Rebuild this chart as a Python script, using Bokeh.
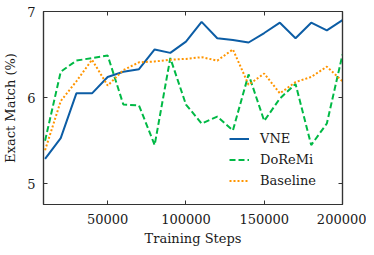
from bokeh.plotting import figure
from bokeh.models import (FixedTicker, LinearAxis, Legend, LegendItem, Range1d,
                          PrintfTickFormatter, CustomJSTickFormatter)
from bokeh.embed import file_html
from bokeh.resources import INLINE

steps = [10000, 20000, 30000, 40000, 50000, 60000, 70000, 80000, 90000, 100000,
         110000, 120000, 130000, 140000, 150000, 160000, 170000, 180000, 190000, 200000]
vne = [5.29, 5.53, 6.05, 6.05, 6.24, 6.30, 6.33, 6.56, 6.52, 6.65,
       6.88, 6.69, 6.67, 6.64, 6.75, 6.87, 6.69, 6.87, 6.78, 6.90]
doremi = [5.50, 6.30, 6.43, 6.46, 6.49, 5.92, 5.91, 5.45, 6.46, 5.92,
          5.70, 5.78, 5.62, 6.27, 5.73, 5.99, 6.16, 5.45, 5.70, 6.50]
baseline = [5.39, 5.96, 6.19, 6.44, 6.14, 6.32, 6.41, 6.42, 6.44, 6.45,
            6.47, 6.43, 6.56, 6.15, 6.28, 6.05, 6.18, 6.24, 6.36, 6.19]

x_ticks = [50000, 100000, 150000, 200000]
y_ticks = [5, 6, 7]

FONT = "DejaVu Serif"
FS = "13px"
TXT = "#1a1a1a"
AX = "#333333"

p = figure(width=366, height=248, output_backend="svg", toolbar_location=None,
           x_range=Range1d(9000, 200000), y_range=Range1d(4.76, 7.0),
           min_border_left=37, min_border_right=24, min_border_top=11, min_border_bottom=20)

p.background_fill_color = "white"
p.border_fill_color = "white"
p.outline_line_color = AX
p.outline_line_width = 1.2
p.grid.visible = False

def style_axis(ax):
    ax.major_tick_in = 4
    ax.major_tick_out = 0
    ax.minor_tick_in = 0
    ax.minor_tick_out = 0
    ax.axis_line_color = AX
    ax.axis_line_width = 1.2
    ax.major_tick_line_color = AX
    ax.major_label_text_font = FONT
    ax.major_label_text_font_size = FS
    ax.major_label_text_color = TXT
    ax.axis_label_text_font = FONT
    ax.axis_label_text_font_size = FS
    ax.axis_label_text_font_style = "normal"
    ax.axis_label_text_color = TXT

p.xaxis.ticker = FixedTicker(ticks=x_ticks)
p.yaxis.ticker = FixedTicker(ticks=y_ticks)
p.xaxis.formatter = PrintfTickFormatter(format="%d")
p.yaxis.formatter = PrintfTickFormatter(format="%d")
p.xaxis.axis_label = "Training Steps"
p.yaxis.axis_label = "Exact Match (%)"
style_axis(p.xaxis[0])
style_axis(p.yaxis[0])
p.xaxis.major_label_standoff = 9
p.yaxis.major_label_standoff = 8
p.xaxis.axis_label_standoff = 4
p.yaxis.axis_label_standoff = 6

blank = CustomJSTickFormatter(code="return '';")
top = LinearAxis(ticker=FixedTicker(ticks=x_ticks), formatter=blank)
style_axis(top)
top.major_label_standoff = 0
right = LinearAxis(ticker=FixedTicker(ticks=y_ticks), formatter=blank)
style_axis(right)
right.major_label_standoff = 0
p.add_layout(top, "above")
p.add_layout(right, "right")

r1 = p.line(steps, vne, line_color="#0C5DA5", line_width=2)
r2 = p.line(steps, doremi, line_color="#00B945", line_width=2, line_dash="6 3")
r3 = p.line(steps, baseline, line_color="#FF9500", line_width=2, line_dash="2 2")

legend = Legend(items=[LegendItem(label="VNE", renderers=[r1]),
                       LegendItem(label="DoReMi", renderers=[r2]),
                       LegendItem(label="Baseline", renderers=[r3])],
                location=(182, 12))
legend.background_fill_alpha = 0
legend.border_line_alpha = 0
legend.padding = 4
legend.margin = 0
legend.spacing = 6
legend.glyph_width = 20
legend.glyph_height = 15
legend.label_height = 15
legend.label_standoff = 11
legend.label_text_font = FONT
legend.label_text_font_size = FS
legend.label_text_color = TXT
p.add_layout(legend, "center")

open("out.html", "w").write(file_html(p, INLINE))
